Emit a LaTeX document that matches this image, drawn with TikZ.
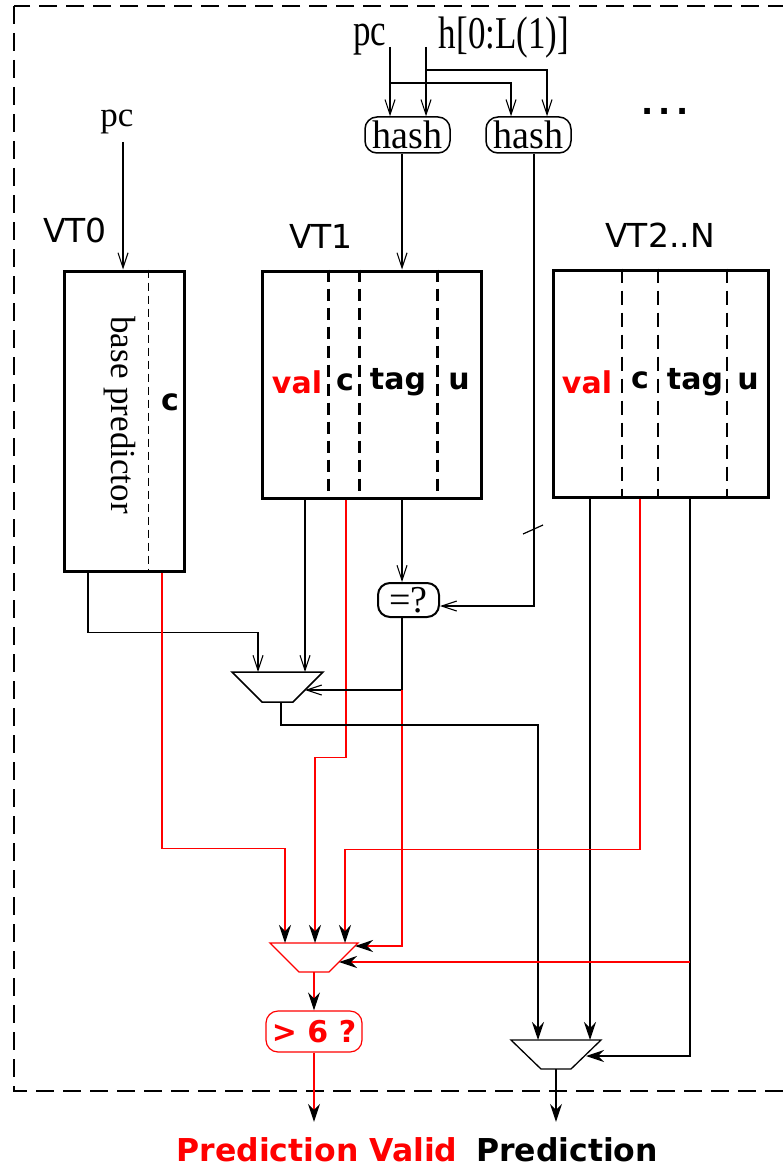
\documentclass[tikz,border=0pt]{standalone}
\usepackage{fontspec}
\setmainfont{DejaVu Sans}
\newfontfamily\serif{Liberation Serif}
\usetikzlibrary{arrows.meta,calc}
\definecolor{myred}{RGB}{255,0,0}
\begin{document}
\begin{tikzpicture}[x=1pt,y=-1pt,
 conn/.style={line width=1.2pt},
 oarr/.style={conn,-{Straight Barb[length=15pt,width=10pt,line width=1.1pt]}},
 farr/.style={conn,-{Stealth[length=18pt,width=12pt,inset=6pt,black]}},
 tbl/.style={draw,line width=3pt,inner sep=0pt},
 muxbox/.style={inner sep=0pt,outer sep=0pt},
 rbox/.style={draw,rounded corners=12pt,inner sep=0pt,line width=1.5pt},
 lab/.style={font=\fontsize{33}{38}\selectfont},
 fld/.style={font=\fontsize{30}{34}\selectfont\bfseries},
 ser/.style={font=\fontsize{35}{40}\selectfont\serif},
 thd/.style={line width=1pt,dash pattern=on 8pt off 5pt},
 tkd/.style={line width=3pt,dash pattern=on 12pt off 7pt},
 md/.style={line width=2pt,dash pattern=on 14pt off 8pt},
]
\useasboundingbox (0,0) rectangle (783,1169);
% outer frame
\draw[line width=2.5pt,dash pattern=on 18pt off 9pt] (14,6) rectangle (800,1091);

% column coordinates
\foreach \n/\x in {c88/88,c162/162,c258/258,c281/281,c285/285,c305/305,c315/315,c345/345,c346/346,c402/402,c511/511,c534/534,c538/538,c547/547,c590/590,c640/640,c690/690}
  \coordinate (\n) at (\x,0);

% top inputs
\node[ser] (pcT) at (370,40) {\scalebox{1}[1.3]{pc}};
\node[ser] (hT) at (504,38) {\scalebox{1}[1.3]{h[0:L(1)]}};
\coordinate (pcTs) at (390,47);
\coordinate (hTs) at (426,47);
\coordinate (jh) at (426,70);
\coordinate (jp) at (390,83);
\node[rbox,minimum width=85pt,minimum height=36pt,font=\fontsize{38}{40}\selectfont\serif] (hash1) at (407.5,135) {\scalebox{1}[1.05]{hash}};
\node[rbox,minimum width=85pt,minimum height=36pt,font=\fontsize{38}{40}\selectfont\serif] (hash2) at (528.5,135) {\scalebox{1}[1.05]{hash}};
\node[font=\fontsize{32}{34}\selectfont\bfseries,anchor=base] (dots) at (665,115) {.\hspace{5pt}.\hspace{5pt}.};

% VT0
\node[ser] (pc0) at (117,122) {pc};
\coordinate (pc0s) at (123,142);
\node[lab] (vt0l) at (75,230) {VT0};
\node[tbl,minimum width=120pt,minimum height=300pt] (vt0) at (124,421) {};
\draw[thd] ([xshift=24pt]vt0.north) -- ([xshift=24pt]vt0.south);
\node[ser,rotate=-90] (bp) at (120,415) {base predictor};
\node[fld] (c0) at (170,402) {c};

% VT1
\node[lab] (vt1l) at (321,236) {VT1};
\node[tbl,minimum width=219pt,minimum height=227pt] (vt1) at (371.5,384.5) {};
\foreach \dx in {-43.5,-12.5,65.5}
  \draw[tkd] ([xshift=\dx pt]vt1.north) -- ([xshift=\dx pt]vt1.south);
\node[fld,text=myred] (v1) at (297,382) {val};
\node[fld] (cc1) at (345,382) {c};
\node[fld] (t1) at (398,382) {tag};
\node[fld] (u1) at (459,382) {u};

% VT2..N
\node[lab] (vt2l) at (660,235) {VT2..N};
\node[tbl,minimum width=215pt,minimum height=227pt] (vt2) at (660.5,383.5) {};
\foreach \dx in {-38.5,-2.5,66.5}
  \draw[md] ([xshift=\dx pt]vt2.north) -- ([xshift=\dx pt]vt2.south);
\node[fld,text=myred] (v2) at (587,382) {val};
\node[fld] (cc2) at (640,380) {c};
\node[fld] (t2) at (695,382) {tag};
\node[fld] (u2) at (748,382) {u};

% compare
\node[rbox,minimum width=61pt,minimum height=34pt,font=\fontsize{38}{40}\selectfont\serif,line width=2pt] (eq) at (408.5,600) {=?};
% muxes (bounding boxes, trapezoids drawn from their corners)
\node[muxbox,minimum width=91pt,minimum height=30pt] (mux1) at (277.5,687) {};
\node[muxbox,minimum width=88pt,minimum height=29pt] (mux2) at (314,957.5) {};
\node[muxbox,minimum width=90pt,minimum height=29pt] (mux3) at (556,1054.5) {};
\draw[line width=1.5pt] (mux1.north west) -- (mux1.north east) -- ([xshift=-30pt]mux1.south east) -- ([xshift=30pt]mux1.south west) -- cycle;
\draw[line width=1.3pt,myred] (mux2.north west) -- (mux2.north east) -- ([xshift=-29pt]mux2.south east) -- ([xshift=29pt]mux2.south west) -- cycle;
\draw[line width=1.3pt] (mux3.north west) -- (mux3.north east) -- ([xshift=-30pt]mux3.south east) -- ([xshift=30pt]mux3.south west) -- cycle;

\node[draw=myred,rounded corners=12pt,line width=1.2pt,minimum width=96pt,minimum height=41pt,inner sep=0pt,text=myred,font=\fontsize{30}{34}\selectfont\bfseries] (gt) at (314,1031.5) {> 6 ?};
\node[font=\fontsize{31.5}{36}\selectfont\bfseries,text=myred,anchor=base,inner ysep=15pt] (pv) at (317,1161) {Prediction Valid};
\node[font=\fontsize{31.5}{36}\selectfont\bfseries,anchor=base,inner ysep=15pt] (pr) at (567,1161) {Prediction};
\coordinate (j1) at (402,690);
\coordinate (j2) at (690,962);

% connectors - top
\draw[oarr] (pcTs) -- (pcTs |- hash1.north);
\draw[oarr] (hTs) -- (hTs |- hash1.north);
\draw[oarr] (jh) -| (hash2.north -| c547);
\draw[oarr] (jp) -| (hash2.north -| c511);
\draw[oarr] (hash1.south -| c402) -- (vt1.north -| c402);
\draw[oarr] (hash2.south -| c534) |- ([yshift=-6pt]eq.east);
\draw[conn] (523,534) -- (543,525);
\draw[oarr] (pc0s) -- (pc0s |- vt0.north);

% VT0 outputs
\draw[oarr] (vt0.south -| c88) -- ++(0,60) -| (mux1.north -| c258);
\draw[farr,myred] (vt0.south -| c162) -- ++(0,276) -| (mux2.north -| c285);
% VT1 outputs
\draw[oarr] (vt1.south -| c305) -- (mux1.north -| c305);
\draw[farr,myred] (vt1.south -| c346) -- ++(0,258) -| (mux2.north -| c315);
\draw[oarr] (vt1.south -| c402) -- (eq.north -| c402);
\draw[oarr] (eq.south -| c402) |- ([xshift=-18pt,yshift=-3pt]mux1.east);
\draw[farr,myred] (j1) |- ([xshift=-3pt,yshift=11.5pt]mux2.east);
% mux1 out
\draw[farr] (mux1.south -| c281) -- ++(0,23) -| (mux3.north -| c538);
% VT2 outputs
\draw[farr] (vt2.south -| c590) -- (mux3.north -| c590);
\draw[farr,myred] (vt2.south -| c640) -- ++(0,351) -| (mux2.north -| c345);
\draw[farr] (vt2.south -| c690) |- ([xshift=-15pt,yshift=-1.5pt]mux3.east);
\draw[farr,myred] (j2) -- ([xshift=-19pt,yshift=-4.5pt]mux2.east);
% outputs
\draw[farr,myred] (mux2.south) -- (gt.north);
\draw[farr,myred] (gt.south) -- (gt.south |- pv.north);
\draw[farr] (mux3.south) -- (mux3.south |- pr.north);
\end{tikzpicture}
\end{document}
